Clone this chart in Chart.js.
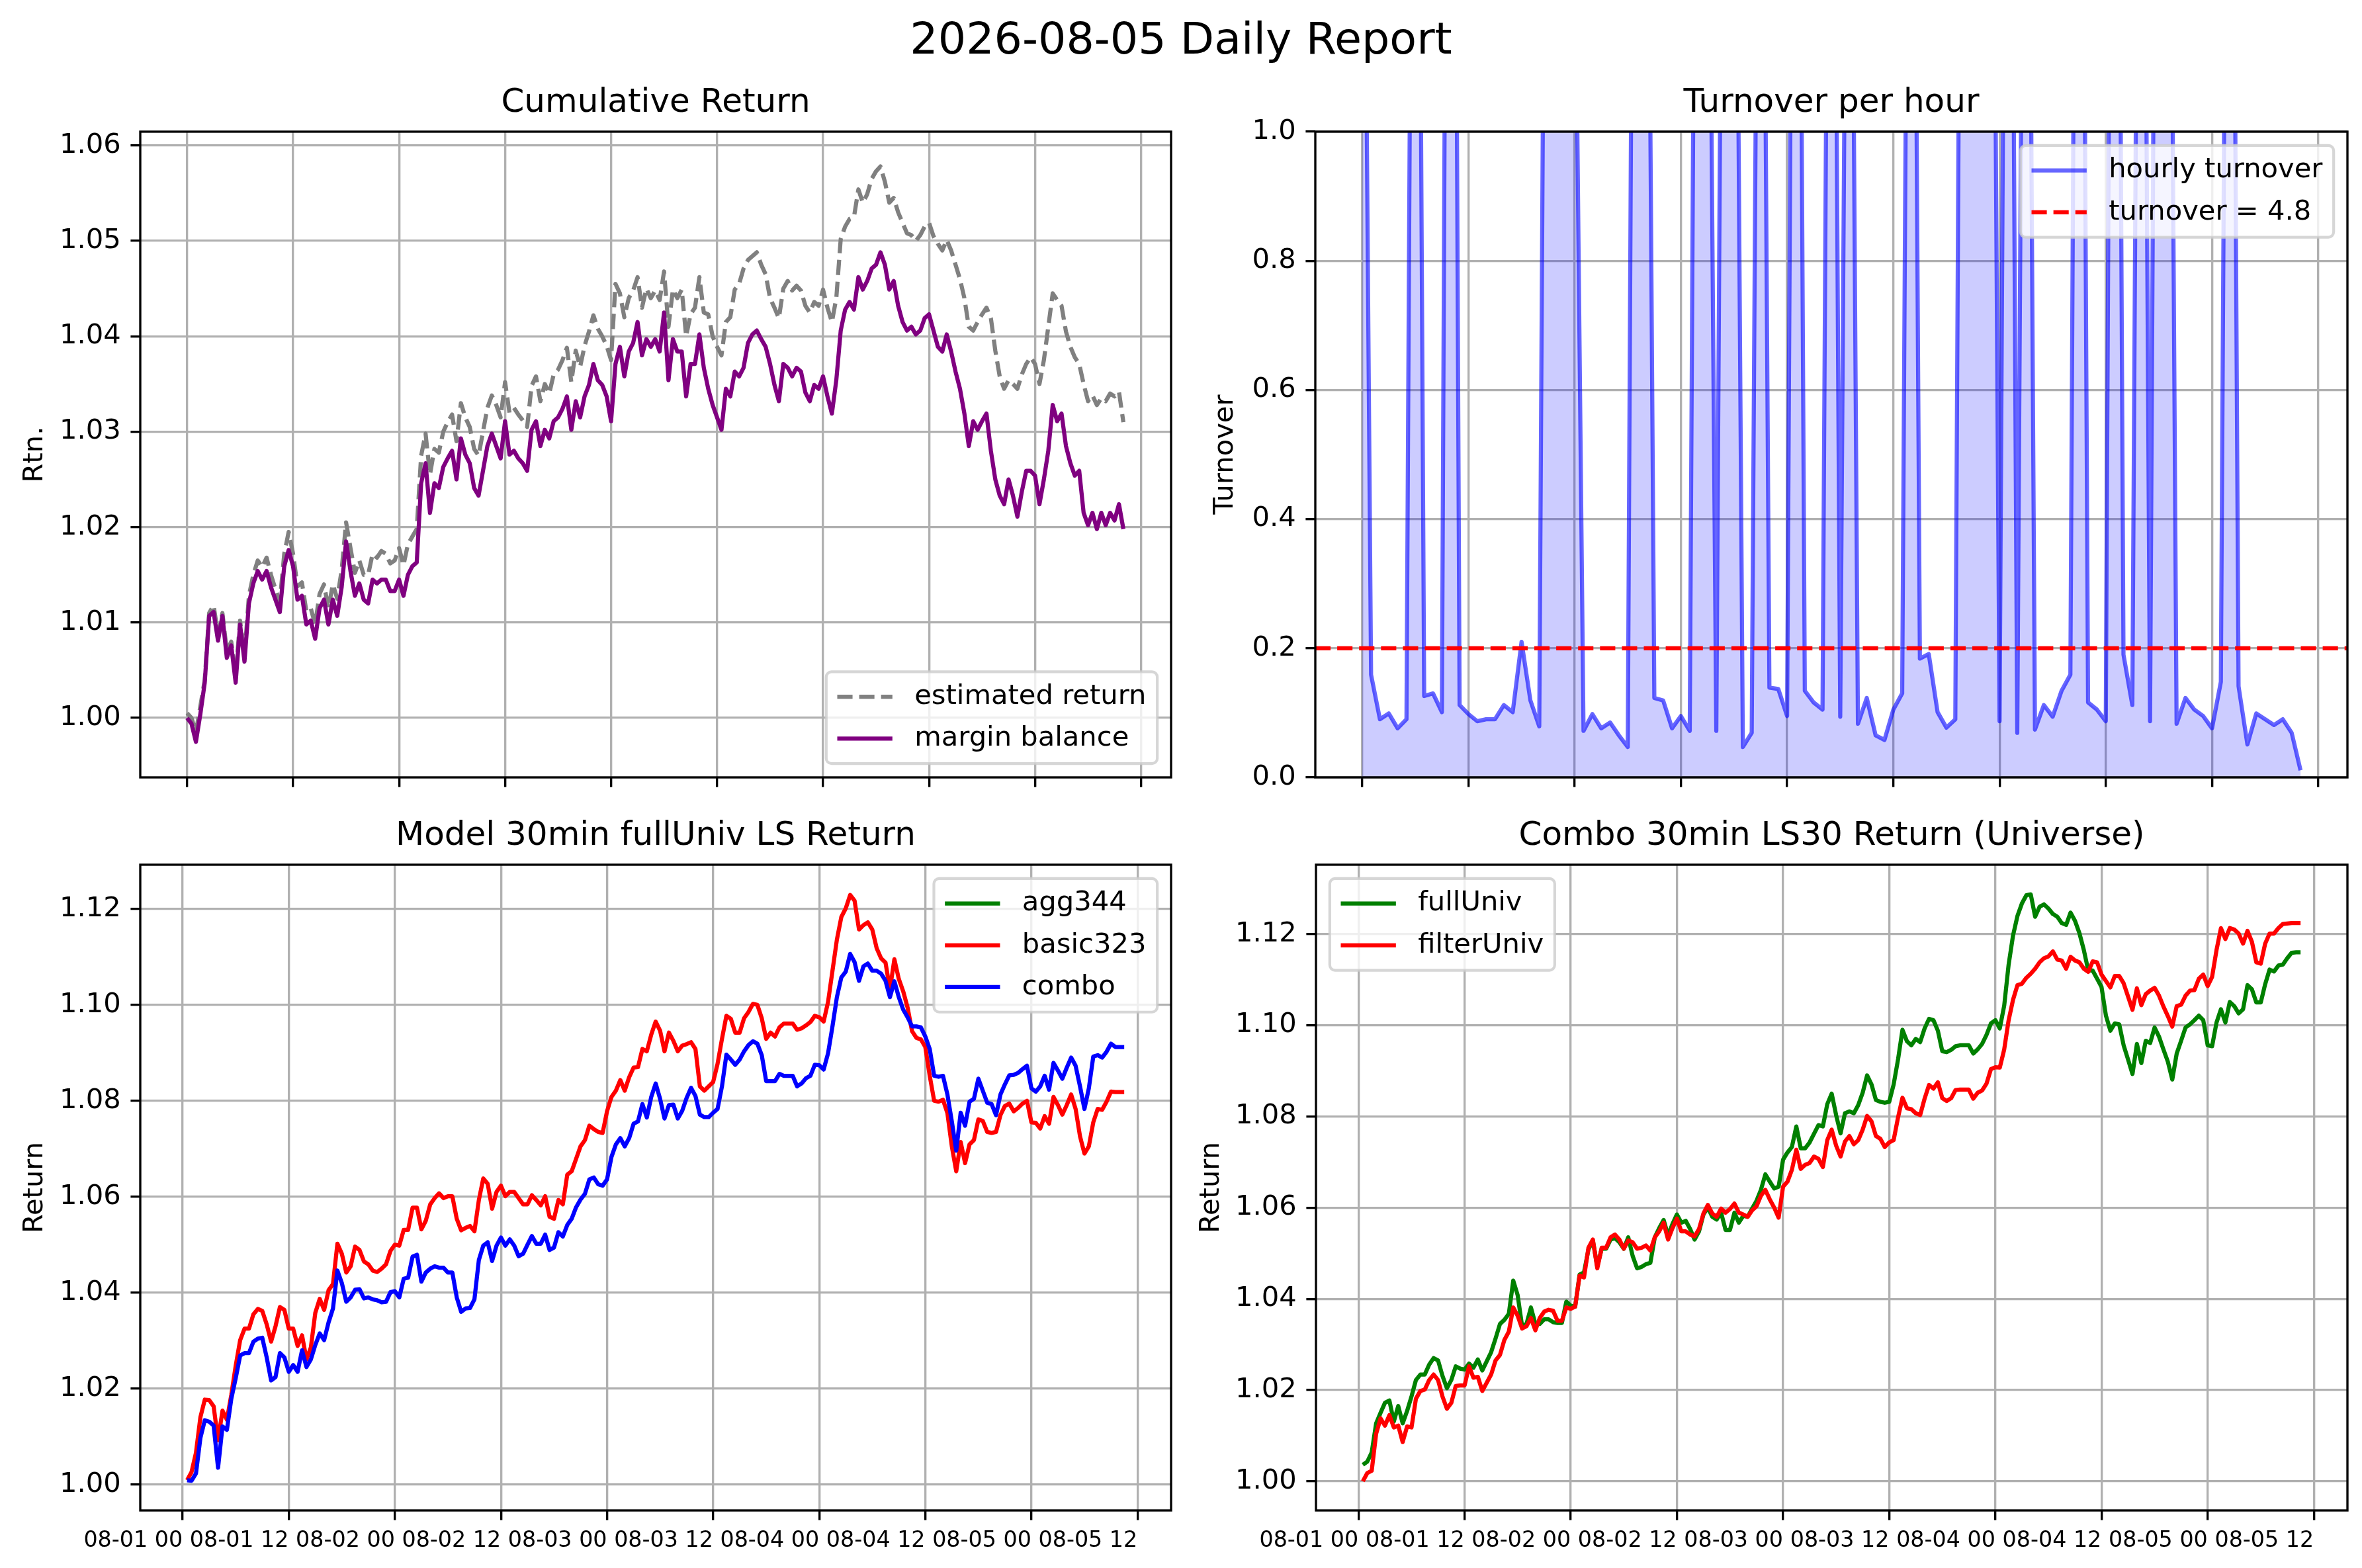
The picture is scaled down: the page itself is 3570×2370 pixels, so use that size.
<!DOCTYPE html>
<html>
<head>
<meta charset="utf-8">
<title>2026-08-05 Daily Report</title>
<script src="https://cdn.jsdelivr.net/npm/chart.js@4.4.1/dist/chart.umd.min.js"></script>
<style>
  body { margin: 0; background: #fff; width: 3570px; height: 2370px; position: relative; overflow: hidden; font-family: "DejaVu Sans", sans-serif; }
  canvas { position: absolute; }
  #suptitle { position: absolute; left: 0; top: 18px; width: 3570px; text-align: center; font-size: 66.67px; line-height: 1.2; color: #000; }
</style>
</head>
<body>
<div id="suptitle">2026-08-05 Daily Report</div>
<canvas id="cum" width="1780" height="1125" style="left:0px;top:90px;width:1780px;height:1125px"></canvas>
<canvas id="turn" width="1794" height="1125" style="left:1776px;top:90px;width:1794px;height:1125px"></canvas>
<canvas id="model" width="1780" height="1155" style="left:0px;top:1215px;width:1780px;height:1155px"></canvas>
<canvas id="combo" width="1794" height="1155" style="left:1776px;top:1215px;width:1794px;height:1155px"></canvas>
<script>
// ---- x axis ticks (hours since 08-01 00:00) ----
const xTickHours = [0, 12, 24, 36, 48, 60, 72, 84, 96, 108];
const xTickLabels = ["08-01 00", "08-01 12", "08-02 00", "08-02 12", "08-03 00",
                     "08-03 12", "08-04 00", "08-04 12", "08-05 00", "08-05 12"];

// ---- y axis ticks ----
const cumTicks = [1.00, 1.01, 1.02, 1.03, 1.04, 1.05, 1.06];
const turnTicks = [0.0, 0.2, 0.4, 0.6, 0.8, 1.0];
const retTicks = [1.00, 1.02, 1.04, 1.06, 1.08, 1.10, 1.12];

// ---- Cumulative Return (every 30 min, from 08-01 00:00) ----
const estimatedReturn = [
  1.0005, 1.0000, 0.9985, 1.0012, 1.0040, 1.0110, 1.0118, 1.0088, 1.0110, 1.0070,
  1.0080, 1.0045, 1.0102, 1.0065, 1.0128, 1.0150, 1.0165, 1.0158, 1.0168, 1.0150,
  1.0135, 1.0122, 1.0172, 1.0195, 1.0172, 1.0138, 1.0142, 1.0112, 1.0115, 1.0098,
  1.0130, 1.0140, 1.0115, 1.0140, 1.0125, 1.0155, 1.0205, 1.0178, 1.0152, 1.0165,
  1.0150, 1.0150, 1.0172, 1.0168, 1.0175, 1.0172, 1.0162, 1.0165, 1.0178, 1.0160,
  1.0182, 1.0190, 1.0198, 1.0275, 1.0298, 1.0255, 1.0282, 1.0278, 1.0300, 1.0310,
  1.0318, 1.0290, 1.0330, 1.0315, 1.0305, 1.0282, 1.0275, 1.0300, 1.0325, 1.0338,
  1.0328, 1.0315, 1.0352, 1.0320, 1.0325, 1.0318, 1.0312, 1.0305, 1.0348, 1.0358,
  1.0332, 1.0350, 1.0340, 1.0360, 1.0365, 1.0375, 1.0388, 1.0352, 1.0385, 1.0368,
  1.0390, 1.0405, 1.0422, 1.0408, 1.0400, 1.0390, 1.0375, 1.0455, 1.0445, 1.0420,
  1.0440, 1.0448, 1.0462, 1.0430, 1.0450, 1.0440, 1.0448, 1.0438, 1.0468, 1.0410,
  1.0449, 1.0440, 1.0449, 1.0400, 1.0423, 1.0430, 1.0462, 1.0425, 1.0423, 1.0400,
  1.0389, 1.0380, 1.0415, 1.0420, 1.0449, 1.0455, 1.0471, 1.0480, 1.0484, 1.0488,
  1.0475, 1.0465, 1.0440, 1.0430, 1.0419, 1.0450, 1.0458, 1.0448, 1.0453, 1.0448,
  1.0432, 1.0425, 1.0436, 1.0432, 1.0449, 1.0430, 1.0415, 1.0440, 1.0502, 1.0515,
  1.0523, 1.0525, 1.0554, 1.0540, 1.0549, 1.0565, 1.0573, 1.0578, 1.0562, 1.0540,
  1.0545, 1.0530, 1.0519, 1.0508, 1.0506, 1.0500, 1.0506, 1.0515, 1.0519, 1.0505,
  1.0497, 1.0490, 1.0501, 1.0490, 1.0475, 1.0460, 1.0440, 1.0410, 1.0406, 1.0415,
  1.0423, 1.0430, 1.0419, 1.0385, 1.0358, 1.0345, 1.0354, 1.0350, 1.0345, 1.0360,
  1.0371, 1.0378, 1.0371, 1.0350, 1.0375, 1.0410, 1.0445, 1.0438, 1.0432, 1.0405,
  1.0389, 1.0378, 1.0371, 1.0350, 1.0332, 1.0338, 1.0328, 1.0335, 1.0332, 1.0340,
  1.0337, 1.0342, 1.0310
];
const marginBalance = [
  1.0000, 0.9994, 0.9975, 1.0004, 1.0037, 1.0107, 1.0111, 1.0081, 1.0107, 1.0063,
  1.0076, 1.0037, 1.0098, 1.0059, 1.0120, 1.0141, 1.0154, 1.0145, 1.0154, 1.0137,
  1.0124, 1.0111, 1.0159, 1.0176, 1.0159, 1.0124, 1.0128, 1.0098, 1.0102, 1.0083,
  1.0115, 1.0124, 1.0098, 1.0124, 1.0107, 1.0137, 1.0185, 1.0154, 1.0128, 1.0141,
  1.0124, 1.0120, 1.0145, 1.0141, 1.0145, 1.0145, 1.0133, 1.0133, 1.0145, 1.0128,
  1.0150, 1.0159, 1.0163, 1.0246, 1.0267, 1.0215, 1.0246, 1.0241, 1.0263, 1.0272,
  1.0280, 1.0250, 1.0293, 1.0276, 1.0267, 1.0241, 1.0233, 1.0259, 1.0285, 1.0298,
  1.0285, 1.0272, 1.0311, 1.0276, 1.0280, 1.0272, 1.0267, 1.0259, 1.0302, 1.0311,
  1.0285, 1.0302, 1.0293, 1.0311, 1.0315, 1.0324, 1.0337, 1.0302, 1.0332, 1.0315,
  1.0337, 1.0349, 1.0371, 1.0354, 1.0349, 1.0337, 1.0311, 1.0371, 1.0389, 1.0358,
  1.0384, 1.0393, 1.0415, 1.0380, 1.0397, 1.0389, 1.0397, 1.0384, 1.0425, 1.0354,
  1.0397, 1.0384, 1.0384, 1.0337, 1.0371, 1.0371, 1.0402, 1.0367, 1.0345, 1.0328,
  1.0315, 1.0302, 1.0345, 1.0337, 1.0363, 1.0358, 1.0367, 1.0393, 1.0402, 1.0406,
  1.0397, 1.0389, 1.0371, 1.0349, 1.0332, 1.0371, 1.0367, 1.0358, 1.0367, 1.0363,
  1.0341, 1.0332, 1.0349, 1.0345, 1.0358, 1.0337, 1.0319, 1.0354, 1.0406, 1.0428,
  1.0436, 1.0428, 1.0462, 1.0449, 1.0458, 1.0471, 1.0475, 1.0488, 1.0475, 1.0449,
  1.0458, 1.0432, 1.0415, 1.0406, 1.0410, 1.0402, 1.0406, 1.0419, 1.0423, 1.0406,
  1.0389, 1.0384, 1.0402, 1.0384, 1.0363, 1.0345, 1.0319, 1.0285, 1.0311, 1.0302,
  1.0311, 1.0319, 1.0280, 1.0250, 1.0233, 1.0224, 1.0250, 1.0233, 1.0211, 1.0237,
  1.0259, 1.0259, 1.0254, 1.0224, 1.0250, 1.0280, 1.0328, 1.0311, 1.0319, 1.0285,
  1.0267, 1.0254, 1.0259, 1.0215, 1.0202, 1.0215, 1.0198, 1.0215, 1.0202, 1.0215,
  1.0207, 1.0224, 1.0198
];

// ---- Turnover per hour (hourly, from 08-01 00:00) ----
const hourlyTurnover = [
  1.9, 0.159, 0.090, 0.099, 0.076, 0.090, 2.6, 0.126, 0.130, 0.101,
  3.1, 0.112, 0.098, 0.087, 0.090, 0.090, 0.112, 0.101, 0.210, 0.119,
  0.079, 2.4, 3.2, 2.8, 1.4, 0.072, 0.098, 0.076, 0.085, 0.065,
  0.047, 2.7, 2.1, 0.123, 0.119, 0.076, 0.095, 0.072, 2.5, 1.8,
  0.072, 2.3, 2.0, 0.047, 0.069, 2.2, 0.139, 0.137, 0.095, 2.6,
  0.134, 0.116, 0.105, 2.4, 0.094, 2.1, 0.083, 0.123, 0.065, 0.058,
  0.105, 0.130, 2.4, 0.184, 0.191, 0.101, 0.077, 0.090, 2.6, 3.4,
  2.9, 2.2, 0.087, 2.5, 0.069, 2.3, 0.074, 0.112, 0.094, 0.134,
  0.159, 2.7, 0.116, 0.105, 0.087, 2.8, 0.190, 0.112, 2.4, 0.087,
  2.6, 2.2, 0.083, 0.123, 0.105, 0.095, 0.076, 0.148, 2.5, 0.141,
  0.051, 0.099, 0.090, 0.081, 0.090, 0.069, 0.011
];
const turnoverRef = 0.2;

// ---- Model 30min fullUniv LS Return (every 30 min, from 08-01 00:30) ----
const agg344 = [];
const basic323 = [
  1.0009, 1.0026, 1.0066, 1.0140, 1.0177, 1.0176, 1.0163, 1.0092, 1.0154, 1.0135,
  1.0187, 1.0248, 1.0301, 1.0325, 1.0325, 1.0355, 1.0366, 1.0362, 1.0334, 1.0298,
  1.0330, 1.0370, 1.0364, 1.0325, 1.0325, 1.0289, 1.0311, 1.0261, 1.0286, 1.0358,
  1.0387, 1.0364, 1.0405, 1.0418, 1.0502, 1.0481, 1.0442, 1.0455, 1.0496, 1.0489,
  1.0465, 1.0459, 1.0446, 1.0443, 1.0450, 1.0459, 1.0487, 1.0500, 1.0498, 1.0531,
  1.0531, 1.0577, 1.0577, 1.0532, 1.0550, 1.0584, 1.0597, 1.0607, 1.0597, 1.0601,
  1.0601, 1.0554, 1.0530, 1.0535, 1.0539, 1.0528, 1.0593, 1.0638, 1.0627, 1.0575,
  1.0610, 1.0623, 1.0601, 1.0610, 1.0610, 1.0597, 1.0584, 1.0584, 1.0603, 1.0593,
  1.0582, 1.0601, 1.0558, 1.0554, 1.0593, 1.0584, 1.0646, 1.0653, 1.0679, 1.0705,
  1.0718, 1.0748, 1.0741, 1.0735, 1.0733, 1.0778, 1.0808, 1.0821, 1.0843, 1.0821,
  1.0849, 1.0869, 1.0870, 1.0908, 1.0903, 1.0938, 1.0965, 1.0946, 1.0903, 1.0942,
  1.0925, 1.0903, 1.0915, 1.0918, 1.0922, 1.0908, 1.0830, 1.0821, 1.0830, 1.0839,
  1.0877, 1.0929, 1.0977, 1.0971, 1.0942, 1.0942, 1.0972, 1.0985, 1.1002, 1.1000,
  1.0972, 1.0929, 1.0942, 1.0934, 1.0953, 1.0961, 1.0961, 1.0961, 1.0948, 1.0951,
  1.0957, 1.0964, 1.0977, 1.0974, 1.0965, 1.1006, 1.1071, 1.1136, 1.1183, 1.1201,
  1.1229, 1.1217, 1.1157, 1.1166, 1.1172, 1.1157, 1.1118, 1.1097, 1.1088, 1.1032,
  1.1095, 1.1054, 1.1028, 1.0994, 1.0945, 1.0931, 1.0928, 1.0912, 1.0852, 1.0800,
  1.0798, 1.0802, 1.0774, 1.0705, 1.0653, 1.0714, 1.0670, 1.0709, 1.0718, 1.0761,
  1.0758, 1.0735, 1.0733, 1.0735, 1.0770, 1.0789, 1.0794, 1.0778, 1.0785, 1.0794,
  1.0800, 1.0755, 1.0754, 1.0742, 1.0768, 1.0752, 1.0808, 1.0791, 1.0771, 1.0791,
  1.0813, 1.0783, 1.0726, 1.0690, 1.0705, 1.0755, 1.0783, 1.0781, 1.0798, 1.0819,
  1.0818, 1.0818, 1.0818
];
const combo = [
  1.0009, 1.0008, 1.0023, 1.0097, 1.0134, 1.0131, 1.0123, 1.0035, 1.0121, 1.0114,
  1.0179, 1.0222, 1.0269, 1.0274, 1.0274, 1.0298, 1.0304, 1.0306, 1.0265, 1.0217,
  1.0224, 1.0274, 1.0265, 1.0235, 1.0249, 1.0235, 1.0280, 1.0245, 1.0261, 1.0291,
  1.0315, 1.0301, 1.0338, 1.0367, 1.0446, 1.0420, 1.0381, 1.0390, 1.0406, 1.0407,
  1.0388, 1.0390, 1.0386, 1.0384, 1.0380, 1.0381, 1.0401, 1.0403, 1.0390, 1.0429,
  1.0431, 1.0475, 1.0479, 1.0423, 1.0442, 1.0450, 1.0455, 1.0452, 1.0452, 1.0442,
  1.0442, 1.0390, 1.0360, 1.0367, 1.0368, 1.0386, 1.0468, 1.0498, 1.0505, 1.0466,
  1.0498, 1.0515, 1.0498, 1.0511, 1.0498, 1.0476, 1.0481, 1.0500, 1.0518, 1.0502,
  1.0502, 1.0521, 1.0489, 1.0494, 1.0526, 1.0517, 1.0541, 1.0554, 1.0578, 1.0594,
  1.0606, 1.0636, 1.0640, 1.0626, 1.0623, 1.0636, 1.0683, 1.0709, 1.0722, 1.0705,
  1.0722, 1.0752, 1.0757, 1.0793, 1.0765, 1.0808, 1.0836, 1.0804, 1.0763, 1.0791,
  1.0792, 1.0763, 1.0779, 1.0806, 1.0827, 1.0810, 1.0771, 1.0766, 1.0766, 1.0775,
  1.0783, 1.0830, 1.0896, 1.0886, 1.0875, 1.0886, 1.0903, 1.0916, 1.0924, 1.0919,
  1.0895, 1.0841, 1.0841, 1.0841, 1.0856, 1.0852, 1.0852, 1.0852, 1.0830, 1.0836,
  1.0847, 1.0852, 1.0875, 1.0874, 1.0865, 1.0899, 1.0955, 1.1016, 1.1057, 1.1069,
  1.1106, 1.1089, 1.1050, 1.1080, 1.1086, 1.1071, 1.1071, 1.1065, 1.1050, 1.1016,
  1.1049, 1.1016, 1.0990, 1.0974, 1.0955, 1.0955, 1.0953, 1.0934, 1.0908, 1.0852,
  1.0850, 1.0852, 1.0813, 1.0757, 1.0696, 1.0775, 1.0748, 1.0798, 1.0804, 1.0846,
  1.0821, 1.0796, 1.0793, 1.0770, 1.0813, 1.0834, 1.0853, 1.0854, 1.0858, 1.0866,
  1.0873, 1.0826, 1.0819, 1.0830, 1.0852, 1.0823, 1.0879, 1.0863, 1.0846, 1.0869,
  1.0890, 1.0873, 1.0830, 1.0783, 1.0826, 1.0892, 1.0895, 1.0890, 1.0902, 1.0919,
  1.0912, 1.0912, 1.0912
];

// ---- Combo 30min LS30 Return (Universe) ----
const fullUniv = [
  1.0036, 1.0043, 1.0063, 1.0127, 1.0150, 1.0172, 1.0177, 1.0131, 1.0165, 1.0127,
  1.0154, 1.0186, 1.0222, 1.0234, 1.0234, 1.0256, 1.0270, 1.0265, 1.0231, 1.0204,
  1.0222, 1.0252, 1.0247, 1.0245, 1.0258, 1.0249, 1.0267, 1.0243, 1.0263, 1.0283,
  1.0313, 1.0345, 1.0354, 1.0367, 1.0440, 1.0408, 1.0340, 1.0345, 1.0381, 1.0345,
  1.0345, 1.0355, 1.0355, 1.0349, 1.0347, 1.0347, 1.0394, 1.0385, 1.0383, 1.0453,
  1.0458, 1.0508, 1.0528, 1.0471, 1.0510, 1.0510, 1.0530, 1.0533, 1.0524, 1.0510,
  1.0535, 1.0494, 1.0467, 1.0470, 1.0476, 1.0479, 1.0535, 1.0555, 1.0573, 1.0539,
  1.0564, 1.0585, 1.0567, 1.0571, 1.0553, 1.0530, 1.0548, 1.0585, 1.0600, 1.0580,
  1.0574, 1.0589, 1.0551, 1.0551, 1.0589, 1.0567, 1.0582, 1.0580, 1.0598, 1.0615,
  1.0639, 1.0673, 1.0657, 1.0642, 1.0646, 1.0705, 1.0721, 1.0733, 1.0778, 1.0730,
  1.0730, 1.0743, 1.0762, 1.0781, 1.0778, 1.0827, 1.0850, 1.0803, 1.0763, 1.0807,
  1.0811, 1.0807, 1.0825, 1.0852, 1.0890, 1.0870, 1.0836, 1.0832, 1.0830, 1.0832,
  1.0870, 1.0925, 1.0990, 1.0965, 1.0956, 1.0970, 1.0963, 1.0993, 1.1014, 1.1011,
  1.0988, 1.0943, 1.0941, 1.0946, 1.0954, 1.0956, 1.0956, 1.0956, 1.0938, 1.0947,
  1.0959, 1.0979, 1.1004, 1.1011, 1.0993, 1.1043, 1.1133, 1.1197, 1.1240, 1.1267,
  1.1285, 1.1287, 1.1238, 1.1260, 1.1265, 1.1256, 1.1244, 1.1238, 1.1224, 1.1220,
  1.1247, 1.1229, 1.1202, 1.1165, 1.1120, 1.1120, 1.1102, 1.1084, 1.1021, 1.0988,
  1.1004, 1.1002, 1.0956, 1.0925, 1.0893, 1.0959, 1.0917, 1.0966, 1.0961, 1.0995,
  1.0975, 1.0947, 1.0920, 1.0881, 1.0938, 1.0966, 1.0995, 1.1002, 1.1011, 1.1021,
  1.1011, 1.0956, 1.0954, 1.1006, 1.1035, 1.1006, 1.1051, 1.1042, 1.1026, 1.1035,
  1.1088, 1.1079, 1.1050, 1.1050, 1.1090, 1.1122, 1.1118, 1.1131, 1.1133, 1.1147,
  1.1159, 1.1160, 1.1160
];
const filterUniv = [
  1.0000, 1.0018, 1.0023, 1.0104, 1.0138, 1.0122, 1.0145, 1.0118, 1.0122, 1.0086,
  1.0120, 1.0118, 1.0181, 1.0198, 1.0201, 1.0222, 1.0234, 1.0222, 1.0186, 1.0159,
  1.0172, 1.0209, 1.0210, 1.0210, 1.0252, 1.0227, 1.0229, 1.0198, 1.0216, 1.0234,
  1.0265, 1.0277, 1.0310, 1.0328, 1.0381, 1.0363, 1.0335, 1.0340, 1.0358, 1.0331,
  1.0358, 1.0372, 1.0376, 1.0374, 1.0352, 1.0352, 1.0381, 1.0378, 1.0383, 1.0451,
  1.0447, 1.0512, 1.0530, 1.0467, 1.0512, 1.0512, 1.0535, 1.0541, 1.0530, 1.0510,
  1.0528, 1.0524, 1.0510, 1.0512, 1.0517, 1.0506, 1.0535, 1.0548, 1.0567, 1.0530,
  1.0555, 1.0576, 1.0548, 1.0548, 1.0541, 1.0537, 1.0553, 1.0587, 1.0606, 1.0587,
  1.0580, 1.0598, 1.0589, 1.0597, 1.0609, 1.0589, 1.0585, 1.0580, 1.0594, 1.0603,
  1.0626, 1.0639, 1.0618, 1.0600, 1.0578, 1.0646, 1.0657, 1.0683, 1.0727, 1.0685,
  1.0694, 1.0698, 1.0712, 1.0707, 1.0689, 1.0748, 1.0771, 1.0736, 1.0712, 1.0745,
  1.0757, 1.0739, 1.0748, 1.0771, 1.0801, 1.0789, 1.0757, 1.0751, 1.0733, 1.0743,
  1.0748, 1.0798, 1.0841, 1.0818, 1.0816, 1.0807, 1.0803, 1.0839, 1.0869, 1.0861,
  1.0875, 1.0840, 1.0834, 1.0840, 1.0858, 1.0859, 1.0859, 1.0859, 1.0839, 1.0852,
  1.0857, 1.0872, 1.0904, 1.0908, 1.0907, 1.0947, 1.1011, 1.1056, 1.1088, 1.1091,
  1.1104, 1.1113, 1.1124, 1.1138, 1.1147, 1.1151, 1.1162, 1.1144, 1.1142, 1.1124,
  1.1150, 1.1142, 1.1138, 1.1124, 1.1117, 1.1140, 1.1138, 1.1111, 1.1097, 1.1083,
  1.1108, 1.1108, 1.1092, 1.1063, 1.1034, 1.1081, 1.1044, 1.1068, 1.1076, 1.1082,
  1.1065, 1.1041, 1.1020, 1.0997, 1.1042, 1.1045, 1.1065, 1.1076, 1.1077, 1.1102,
  1.1111, 1.1086, 1.1106, 1.1165, 1.1213, 1.1189, 1.1213, 1.1210, 1.1201, 1.1179,
  1.1207, 1.1183, 1.1138, 1.1135, 1.1179, 1.1201, 1.1201, 1.1213, 1.1222, 1.1223,
  1.1224, 1.1224, 1.1224
];

// time stamps in hours (regular sampling)
const cumHours = marginBalance.map((_, i) => i * 0.5);
const turnHours = hourlyTurnover.map((_, i) => i);
const retHours = basic323.map((_, i) => 0.5 + i * 0.5);

// ---- look (matplotlib at 300 dpi) ----
Chart.defaults.font.family = '"DejaVu Sans"';
Chart.defaults.color = "#000";
const GRID = "#b0b0b0";
const THIN = 3.33;     // 0.8pt
const LW = 6.25;       // 1.5pt
const DASH = [23.1, 10];
const FS = 41.67;      // 10pt

function pts(xs, ys) {
  return ys.map((v, i) => ({ x: xs[i], y: v }));
}

function xAxis(min, max, height, labels) {
  return {
    type: "linear", min: min, max: max,
    afterBuildTicks: s => { s.ticks = xTickHours.map(v => ({ value: v })); },
    afterFit: s => { s.height = height; },
    border: { display: false },
    grid: { color: GRID, lineWidth: THIN, drawTicks: true, tickLength: 14.6, tickColor: "#000", tickWidth: THIN },
    ticks: {
      autoSkip: false, maxRotation: 0, minRotation: 0, align: "end", padding: 12,
      font: { size: 33.3 },
      callback: (v, i) => labels ? xTickLabels[i] : ""
    }
  };
}

function yAxis(min, max, ticks, digits, width, title, titlePad) {
  return {
    type: "linear", min: min, max: max,
    afterBuildTicks: s => { s.ticks = ticks.map(v => ({ value: v })); },
    afterFit: s => { s.width = width; },
    border: { display: false },
    grid: { color: GRID, lineWidth: THIN, drawTicks: true, tickLength: 14.6, tickColor: "#000", tickWidth: THIN },
    ticks: { padding: 14.6, font: { size: FS }, callback: v => Number(v).toFixed(digits) },
    title: { display: true, text: title, font: { size: FS }, padding: { top: titlePad, bottom: 0 } }
  };
}

// spines + matplotlib style legend drawn inside the axes
function roundRect(ctx, x, y, w, h, r) {
  ctx.beginPath();
  ctx.moveTo(x + r, y);
  ctx.lineTo(x + w - r, y);
  ctx.arcTo(x + w, y, x + w, y + r, r);
  ctx.lineTo(x + w, y + h - r);
  ctx.arcTo(x + w, y + h, x + w - r, y + h, r);
  ctx.lineTo(x + r, y + h);
  ctx.arcTo(x, y + h, x, y + h - r, r);
  ctx.lineTo(x, y + r);
  ctx.arcTo(x, y, x + r, y, r);
  ctx.closePath();
}

const mplBox = {
  id: "mplBox",
  afterDatasetsDraw(chart, args, opts) {
    const ctx = chart.ctx;
    const a = chart.chartArea;
    ctx.save();
    ctx.strokeStyle = "#000";
    ctx.lineWidth = THIN;
    ctx.strokeRect(a.left, a.top, a.right - a.left, a.bottom - a.top);

    const items = chart.data.datasets.filter(d => d.label);
    ctx.font = FS + 'px "DejaVu Sans"';
    const textW = Math.max(...items.map(d => ctx.measureText(d.label).width));
    const pad = 0.4 * FS, rowH = 42.3, gap = 0.5 * FS, handle = 2 * FS, hpad = 0.8 * FS, axpad = 0.5 * FS;
    const w = 2 * pad + handle + hpad + textW;
    const h = 2 * pad + items.length * rowH + (items.length - 1) * gap;
    const x = opts.loc.includes("right") ? a.right - axpad - w : a.left + axpad;
    const y = opts.loc.includes("lower") ? a.bottom - axpad - h : a.top + axpad;

    roundRect(ctx, x, y, w, h, 8);
    ctx.fillStyle = "rgba(255,255,255,0.8)";
    ctx.fill();
    ctx.strokeStyle = "rgba(204,204,204,0.8)";
    ctx.lineWidth = 4.17;
    ctx.stroke();

    items.forEach((d, i) => {
      const cy = y + pad + i * (rowH + gap) + rowH / 2;
      ctx.beginPath();
      ctx.setLineDash(d.borderDash || []);
      ctx.strokeStyle = d.borderColor;
      ctx.lineWidth = d.borderWidth;
      ctx.moveTo(x + pad, cy);
      ctx.lineTo(x + pad + handle, cy);
      ctx.stroke();
      ctx.setLineDash([]);
      ctx.fillStyle = "#000";
      ctx.textBaseline = "middle";
      ctx.textAlign = "left";
      ctx.fillText(d.label, x + pad + handle + hpad, cy);
    });
    ctx.restore();
  }
};

function lineSet(label, data, color, order, extra) {
  return Object.assign({
    label: label, data: data, borderColor: color, backgroundColor: color,
    borderWidth: LW, pointRadius: 0, tension: 0, fill: false,
    borderJoinStyle: "round", clip: 0, order: order
  }, extra || {});
}

function makeChart(id, datasets, opts) {
  return new Chart(document.getElementById(id), {
    type: "line",
    data: { datasets: datasets },
    options: {
      responsive: false,
      animation: false,
      events: [],
      layout: { padding: { left: 0, right: opts.padRight, top: 0, bottom: 0 } },
      scales: { x: opts.x, y: opts.y },
      plugins: {
        legend: { display: false },
        tooltip: { enabled: false },
        title: {
          display: true, text: opts.title, fullSize: false,
          font: { size: 50, weight: "normal", lineHeight: 1.2 },
          padding: { top: opts.titleTop, bottom: opts.titleBottom }
        },
        mplBox: { loc: opts.legendLoc }
      }
    },
    plugins: [mplBox]
  });
}

// Cumulative Return
makeChart("cum", [
  lineSet("estimated return", pts(cumHours, estimatedReturn), "#808080", 2, { borderDash: DASH }),
  lineSet("margin balance", pts(cumHours, marginBalance), "#800080", 1)
], {
  title: "Cumulative Return", titleTop: 36, titleBottom: 13, padRight: 10,
  x: xAxis(-5.3, 111.4, 40, false),
  y: yAxis(0.99377, 1.06145, cumTicks, 2, 212, "Rtn.", 28),
  legendLoc: "lower right"
});

// Turnover per hour
makeChart("turn", [
  lineSet("hourly turnover", pts(turnHours, hourlyTurnover), "rgba(0,0,255,0.6)", 2,
    { fill: "origin", backgroundColor: "rgba(0,0,255,0.2)" }),
  lineSet("turnover = 4.8", [{ x: -5.3, y: turnoverRef }, { x: 111.3, y: turnoverRef }], "#ff0000", 1,
    { borderDash: DASH })
], {
  title: "Turnover per hour", titleTop: 36, titleBottom: 13, padRight: 22,
  x: xAxis(-5.3, 111.3, 40, false),
  y: yAxis(0, 1, turnTicks, 1, 212, "Turnover", 51),
  legendLoc: "upper right"
});

// Model 30min fullUniv LS Return
makeChart("model", [
  lineSet("agg344", pts(retHours, agg344), "#008000", 3),
  lineSet("basic323", pts(retHours, basic323), "#ff0000", 2),
  lineSet("combo", pts(retHours, combo), "#0000ff", 1)
], {
  title: "Model 30min fullUniv LS Return", titleTop: 19.5, titleBottom: 12.5, padRight: 10,
  x: xAxis(-4.8, 111.8, 87, true),
  y: yAxis(0.9946, 1.1292, retTicks, 2, 212, "Return", 28),
  legendLoc: "upper right"
});

// Combo 30min LS30 Return (Universe)
makeChart("combo", [
  lineSet("fullUniv", pts(retHours, fullUniv), "#008000", 2),
  lineSet("filterUniv", pts(retHours, filterUniv), "#ff0000", 1)
], {
  title: "Combo 30min LS30 Return (Universe)", titleTop: 19.5, titleBottom: 12.5, padRight: 22,
  x: xAxis(-4.8, 111.8, 87, true),
  y: yAxis(0.9936, 1.1352, retTicks, 2, 213, "Return", 30),
  legendLoc: "upper left"
});
</script>
</body>
</html>
